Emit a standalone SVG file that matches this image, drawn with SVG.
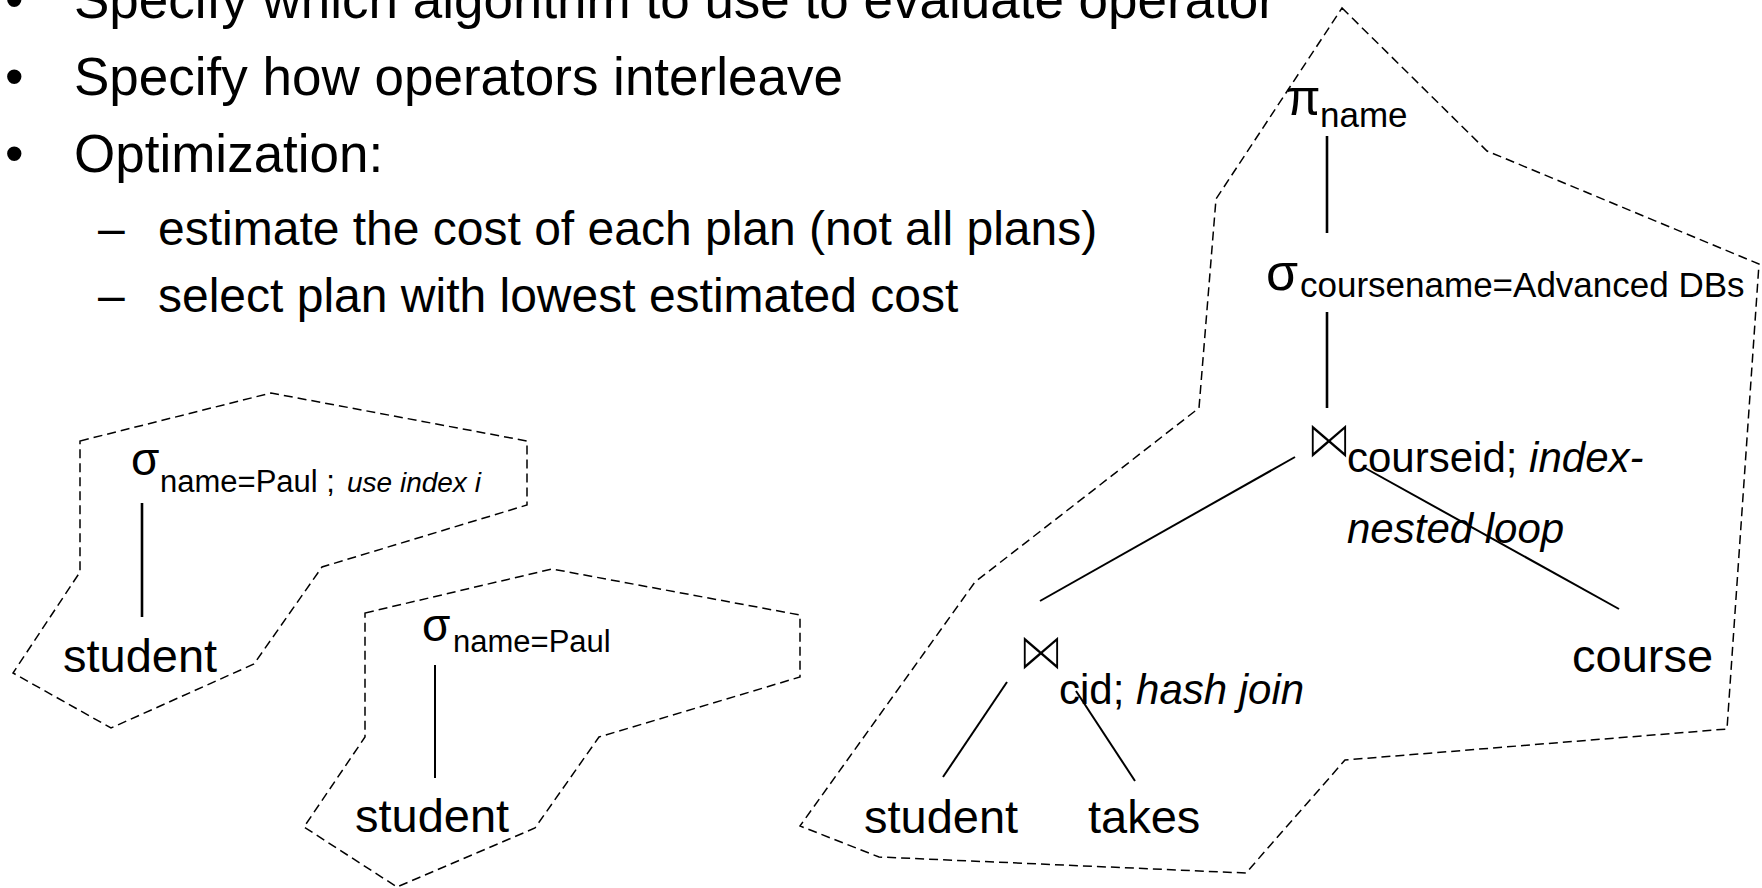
<svg xmlns="http://www.w3.org/2000/svg" width="1762" height="888" viewBox="0 0 1762 888">
  <style>
    text { font-family: "Liberation Sans", Arial, sans-serif; fill: #000; }
    .head { font-size: 53px; }
    .sub { font-size: 48px; }
    .rel { font-size: 47px; }
    .sig { font-size: 46px; }
    .sig3 { font-size: 52px; }
    .pi { font-size: 50px; }
    .idx { font-size: 31px; }
    .idx3 { font-size: 35px; }
    .note { font-size: 42px; }
    .it { font-style: italic; }
    /* join symbol: thin the glyph strokes with a white edge */
    .join { font-family: "DejaVu Sans", sans-serif; font-size: 54px; fill: #000; stroke: #fff; stroke-width: 2.2; paint-order: fill; }
    .plan { fill: none; stroke: #000; stroke-width: 1.5; stroke-dasharray: 9 5; }
    .edge { stroke: #000; stroke-width: 2; fill: none; }
    .edge.thick { stroke-width: 2.6; }
  </style>

  <!-- slide text -->
  <g id="bullets">
    <text class="head" x="5" y="18">•</text>
    <text class="head" x="74" y="18">Specify which algorithm to use to evaluate operator</text>
    <text class="head" x="5" y="95">•</text>
    <text class="head" x="74" y="95">Specify how operators interleave</text>
    <text class="head" x="5" y="172">•</text>
    <text class="head" x="74" y="172">Optimization:</text>
    <text class="sub" x="98" y="245">–</text>
    <text class="sub" x="158" y="245">estimate the cost of each plan (not all plans)</text>
    <text class="sub" x="98" y="312">–</text>
    <text class="sub" x="158" y="312">select plan with lowest estimated cost</text>
  </g>

  <!-- dashed outlines around each evaluation plan -->
  <g id="plan-outlines">
    <polygon id="plan1-outline" class="plan" points="80,441 271,393 527,441 527,505 322,567 254,664 111,728 13,673 80,572"/>
    <polygon id="plan2-outline" class="plan" points="365,613 552,569 800,615 800,677 599,737 535,828 397,887 304,827 365,737"/>
    <polygon id="plan3-outline" class="plan" points="1342,8 1487,151 1759,264 1727,729 1345,760 1246,873 879,857 800,826 975,582 1199,408 1216,199"/>
  </g>

  <!-- connectors -->
  <g id="connectors">
    <line class="edge thick" x1="142" y1="503" x2="142" y2="617"/>
    <line class="edge" x1="435" y1="665" x2="435" y2="778"/>
    <line class="edge thick" x1="1327" y1="136" x2="1327" y2="233"/>
    <line class="edge thick" x1="1327" y1="312" x2="1327" y2="408"/>
    <line class="edge" x1="1295" y1="457" x2="1040" y2="601"/>
    <line class="edge" x1="1365" y1="468" x2="1619" y2="609"/>
    <line class="edge" x1="1007" y1="682" x2="943" y2="777"/>
    <line class="edge" x1="1076" y1="691" x2="1135" y2="781"/>
  </g>

  <!-- plan 1: selection using an index -->
  <g id="p1-select">
    <text class="sig" x="131" y="475">σ</text>
    <text class="idx" x="160" y="492">name=Paul ;<tspan class="it" x="347" style="font-size:28px">use index i</tspan></text>
  </g>
  <g id="p1-student">
    <text class="rel" x="63" y="672">student</text>
  </g>

  <!-- plan 2: plain selection -->
  <g id="p2-select">
    <text class="sig" x="422" y="641">σ</text>
    <text class="idx" x="453" y="652">name=Paul</text>
  </g>
  <g id="p2-student">
    <text class="rel" x="355" y="832">student</text>
  </g>

  <!-- plan 3: project / select / joins -->
  <g id="p3-project">
    <text class="pi" x="1286" y="115">π</text>
    <text class="idx3" x="1320" y="127">name</text>
  </g>
  <g id="p3-select">
    <text class="sig3" x="1266" y="290">σ</text>
    <text class="idx3" x="1300" y="297">coursename=Advanced DBs</text>
  </g>
  <g id="p3-join-course">
    <text class="join" transform="translate(1306,458) scale(0.85,1)">⋈</text>
    <text class="note" x="1347" y="472">courseid; <tspan class="it">index-</tspan></text>
    <text class="note it" x="1347" y="543">nested loop</text>
  </g>
  <g id="p3-join-takes">
    <text class="join" transform="translate(1018,670) scale(0.85,1)">⋈</text>
    <text class="note" x="1059" y="704">cid; <tspan class="it">hash join</tspan></text>
  </g>
  <g id="p3-student">
    <text class="rel" x="864" y="833">student</text>
  </g>
  <g id="p3-takes">
    <text class="rel" x="1088" y="833">takes</text>
  </g>
  <g id="p3-course">
    <text class="rel" x="1572" y="672">course</text>
  </g>
</svg>
